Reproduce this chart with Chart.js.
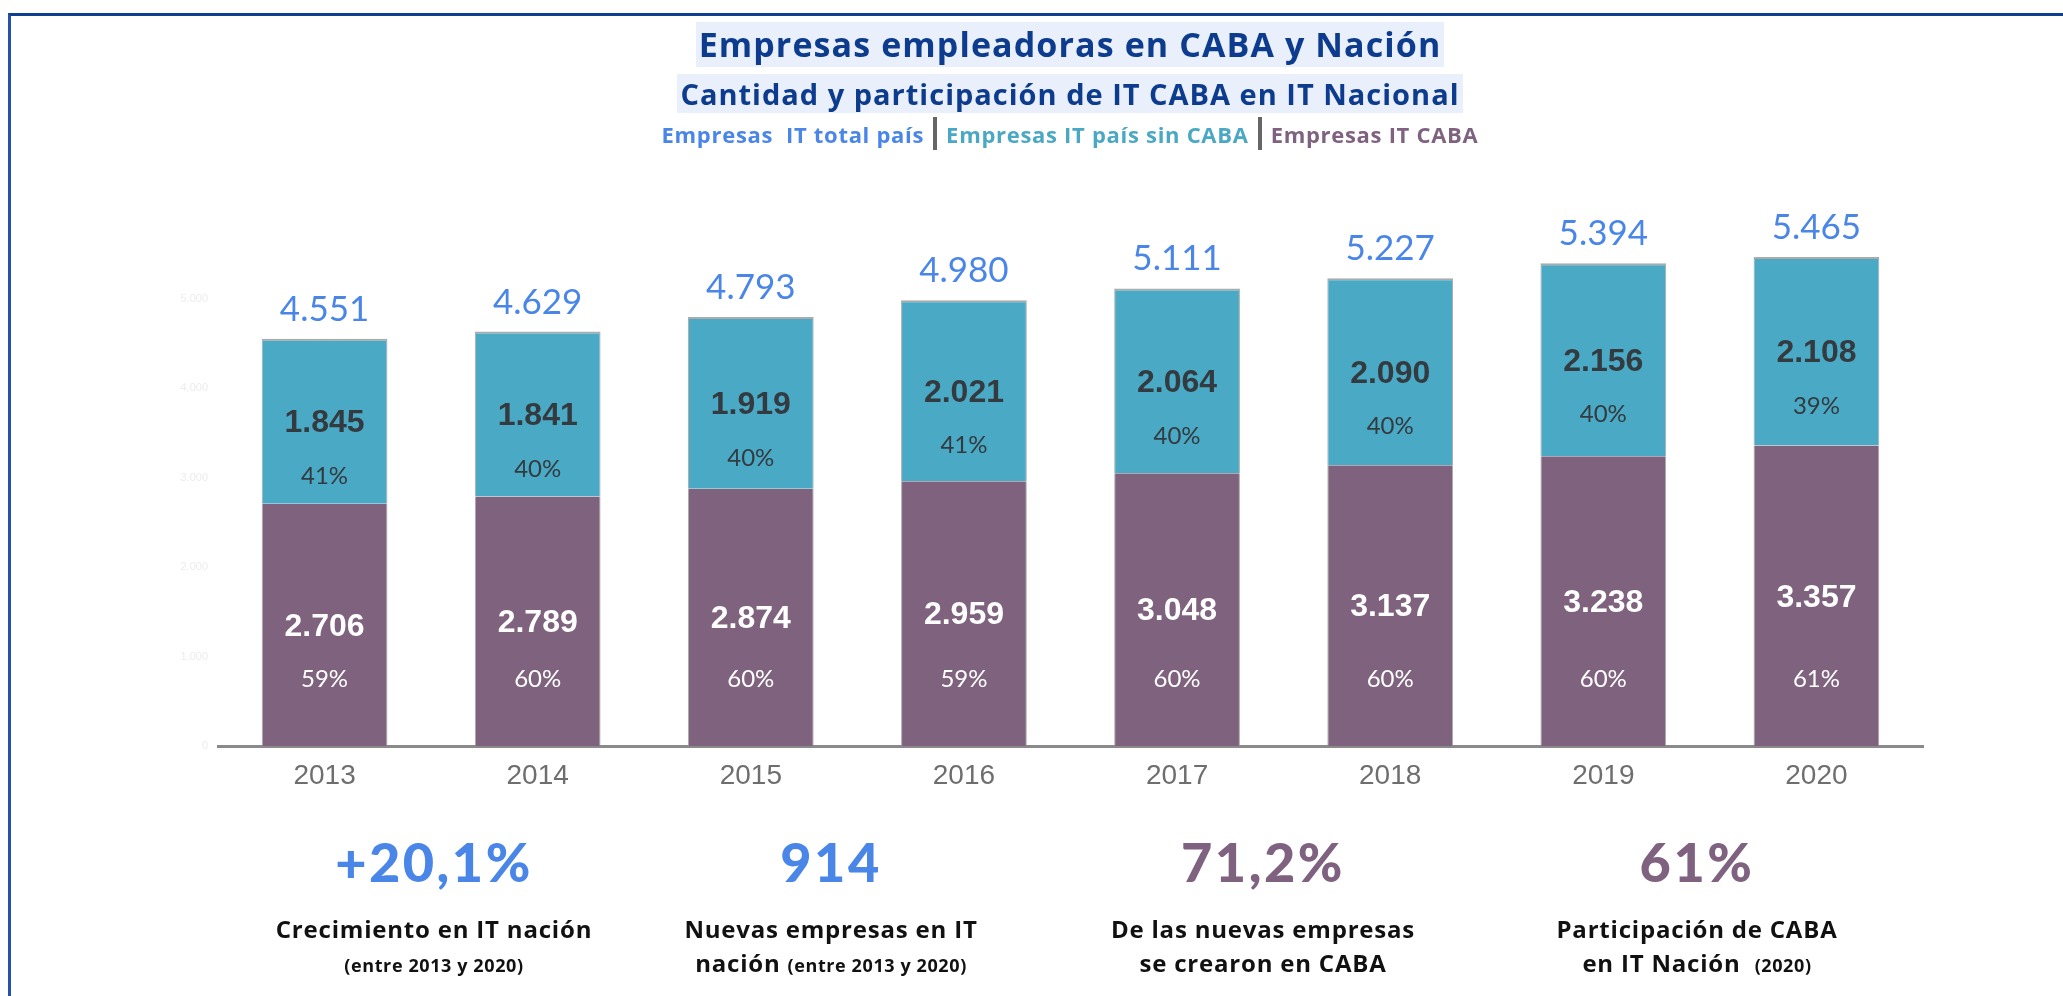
<!DOCTYPE html>
<html lang="es">
<head>
<meta charset="utf-8">
<title>Empresas empleadoras en CABA y Nación</title>
<script src="https://cdn.jsdelivr.net/npm/chart.js@4.4.1/dist/chart.umd.min.js"></script>
<style>
  body { margin: 0; background: #fff; width: 2063px; height: 996px; overflow: hidden; position: relative; font-family: "Open Sans", Lato, sans-serif; }
  #marco { position: absolute; left: 8px; top: 13px; right: 0; bottom: 0; border-top: 3px solid #0f3f8f; border-left: 3px solid #2752a8; }
  #chart { position: absolute; left: 0; top: 0; }
  .cab { position: absolute; left: 470px; width: 1200px; text-align: center; }
  .caja { display: inline-block; background: #e9f0fb; color: #0d3c8e; font-weight: 700; }
  #titulo { top: 22px; }
  #titulo .caja { font-size: 34px; line-height: 45px; padding: 0 3px; letter-spacing: 1.1px; }
  #subtitulo { top: 74px; }
  #subtitulo .caja { font-size: 29px; line-height: 39px; padding: 0 3px; letter-spacing: 1px; }
  #leyenda { top: 117px; font-size: 22px; font-weight: 700; line-height: 34px; letter-spacing: 0.7px; }
  .sep { display: inline-block; width: 4px; height: 33px; background: #666; vertical-align: -7px; margin: 0 9px; }
  .dato { position: absolute; width: 500px; text-align: center; }
  .num { font-family: Lato, sans-serif; font-size: 54px; font-weight: 900; line-height: 60px; top: 832px; letter-spacing: 2.5px; }
  .desc { font-size: 24px; font-weight: 700; color: #111; line-height: 34px; top: 912px; letter-spacing: 0.8px; }
  .desc small { font-size: 18px; letter-spacing: 0.6px; }
</style>
</head>
<body>
<div id="marco"></div>
<canvas id="chart" width="2063" height="996"></canvas>

<div class="cab" id="titulo"><span class="caja">Empresas empleadoras en CABA y Nación</span></div>
<div class="cab" id="subtitulo"><span class="caja">Cantidad y participación de IT CABA en IT Nacional</span></div>
<div class="cab" id="leyenda"><span style="color:#4a86e8">Empresas&nbsp; IT total país</span><span class="sep"></span><span style="color:#4aa8c4">Empresas IT país sin CABA</span><span class="sep"></span><span style="color:#7f6180">Empresas IT CABA</span></div>

<div class="dato num" style="left:184px; color:#4a86e8">+20,1%</div>
<div class="dato num" style="left:581px; color:#4a86e8">914</div>
<div class="dato num" style="left:1013px; color:#7f6180">71,2%</div>
<div class="dato num" style="left:1447px; color:#7f6180">61%</div>

<div class="dato desc" style="left:184px">Crecimiento en IT nación<br><small>(entre 2013 y 2020)</small></div>
<div class="dato desc" style="left:581px">Nuevas empresas en IT<br>nación <small>(entre 2013 y 2020)</small></div>
<div class="dato desc" style="left:1013px">De las nuevas empresas<br>se crearon en CABA</div>
<div class="dato desc" style="left:1447px">Participación de CABA<br>en IT Nación&nbsp; <small>(2020)</small></div>

<script>
const years = ['2013', '2014', '2015', '2016', '2017', '2018', '2019', '2020'];
const caba = [2706, 2789, 2874, 2959, 3048, 3137, 3238, 3357];
const sinCaba = [1845, 1841, 1919, 2021, 2064, 2090, 2156, 2108];
const totalPais = [4551, 4629, 4793, 4980, 5111, 5227, 5394, 5465];
const pctCaba = ['59%', '60%', '60%', '59%', '60%', '60%', '60%', '61%'];
const pctSinCaba = ['41%', '40%', '40%', '41%', '40%', '40%', '40%', '39%'];
const yTicks = [0, 1000, 2000, 3000, 4000, 5000];

const fmt = v => String(v).replace(/\B(?=(\d{3})+(?!\d))/g, '.');

// etiquetas dentro y encima de las barras
const etiquetas = {
    id: 'etiquetas',
    afterDatasetsDraw(chart) {
        const ctx = chart.ctx;
        const y = chart.scales.y;
        const abajo = chart.getDatasetMeta(0).data;
        const arriba = chart.getDatasetMeta(1).data;
        ctx.save();
        ctx.textAlign = 'center';

        abajo.forEach((bar, i) => {
            const mid = (bar.y + bar.base) / 2;
            ctx.fillStyle = '#ffffff';
            ctx.textBaseline = 'middle';
            ctx.font = 'bold 32px "Liberation Sans", Arial, sans-serif';
            ctx.fillText(fmt(caba[i]), bar.x, mid + 2);
            ctx.font = '24px Lato, sans-serif';
            ctx.fillText(pctCaba[i], bar.x, y.getPixelForValue(750));
        });

        arriba.forEach((bar, i) => {
            const mid = (bar.y + bar.base) / 2;
            ctx.fillStyle = '#333b40';
            ctx.textBaseline = 'middle';
            ctx.font = 'bold 32px "Liberation Sans", Arial, sans-serif';
            ctx.fillText(fmt(sinCaba[i]), bar.x, mid + 2);
            ctx.font = '24px Lato, sans-serif';
            ctx.fillText(pctSinCaba[i], bar.x, mid + 55);

            ctx.fillStyle = '#4a86e8';
            ctx.textBaseline = 'alphabetic';
            ctx.font = '35px Lato, sans-serif';
            ctx.fillText(fmt(totalPais[i]), bar.x, bar.y - 18);
        });
        ctx.restore();
    }
};

new Chart(document.querySelector('#chart'), {
    type: 'bar',
    data: {
        labels: years,
        datasets: [
            {
                label: 'Empresas IT CABA',
                data: caba,
                backgroundColor: '#7f637e',
                borderColor: 'rgba(150,150,150,0.8)',
                borderWidth: { top: 0, left: 1, right: 1, bottom: 0 },
                borderSkipped: false,
                barPercentage: 0.59,
                categoryPercentage: 1
            },
            {
                label: 'Empresas IT país sin CABA',
                data: sinCaba,
                backgroundColor: '#4aa9c4',
                borderColor: 'rgba(150,150,150,0.8)',
                borderWidth: { top: 2, left: 1, right: 1, bottom: 0 },
                borderSkipped: false,
                barPercentage: 0.59,
                categoryPercentage: 1
            }
        ]
    },
    options: {
        responsive: false,
        animation: false,
        layout: { padding: { left: 158, right: 140, top: 209, bottom: 190 } },
        plugins: {
            legend: { display: false },
            tooltip: { enabled: false }
        },
        scales: {
            x: {
                stacked: true,
                grid: { display: false, drawTicks: false },
                border: { display: true, color: '#8a8a8a', width: 3 },
                ticks: { color: '#6e6e6e', font: { family: '"Liberation Sans", Arial', size: 28 }, padding: 13 },
                afterFit: s => { s.height = 60; }
            },
            y: {
                stacked: true,
                min: 0,
                max: 6000,
                grid: { display: false, drawTicks: false },
                border: { display: false },
                afterBuildTicks: s => { s.ticks = yTicks.map(v => ({ value: v })); },
                ticks: {
                    color: '#ececec',
                    font: { family: '"Liberation Sans", Arial', size: 11 },
                    padding: 10,
                    callback: v => fmt(v)
                },
                afterFit: s => { s.width = 60; }
            }
        }
    },
    plugins: [etiquetas]
});
</script>
</body>
</html>
